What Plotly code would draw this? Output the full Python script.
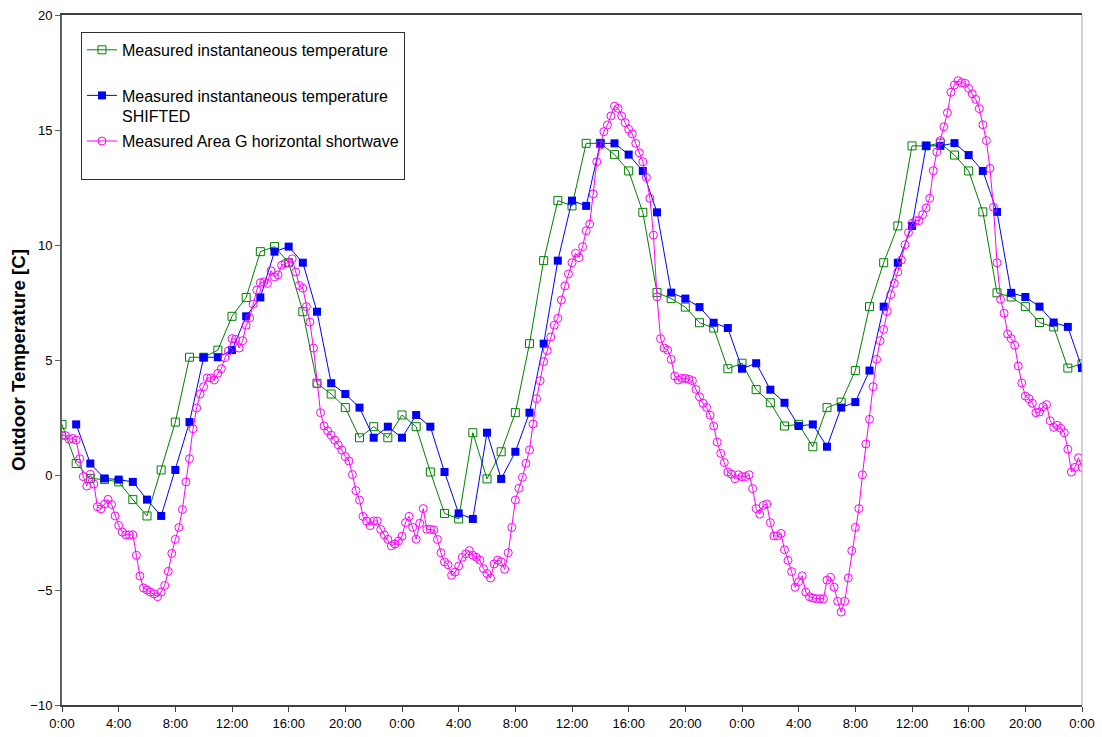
import plotly.graph_objects as go

# ---- data -------------------------------------------------------------
hours_measured = list(range(0, 73))
temp_measured = [
    2.2, 0.5, -0.15, -0.2, -0.3, -1.07, -1.78, 0.22, 2.3, 5.12,
    5.12, 5.43, 6.9, 7.72, 9.71, 9.93, 9.23, 7.1, 3.99, 3.52,
    2.93, 1.62, 2.1, 1.62, 2.61, 2.1, 0.13, -1.67, -1.91, 1.84,
    -0.17, 1.01, 2.71, 5.71, 9.32, 11.93, 11.7, 14.42, 14.42, 13.93,
    13.22, 11.42, 7.93, 7.67, 7.3, 6.62, 6.39, 4.62, 4.86, 3.71,
    3.14, 2.13, 2.2, 1.23, 2.93, 3.17, 4.54, 7.32, 9.23, 10.83,
    14.31, 14.31, 14.43, 13.91, 13.22, 11.44, 7.92, 7.74, 7.32, 6.63,
    6.44, 4.65, 4.83,
]

hours_shifted = list(range(1, 73))
temp_shifted = [
    2.2, 0.5, -0.15, -0.2, -0.3, -1.07, -1.78, 0.22, 2.3, 5.12,
    5.12, 5.43, 6.9, 7.72, 9.71, 9.93, 9.23, 7.1, 3.99, 3.52,
    2.93, 1.62, 2.1, 1.62, 2.61, 2.1, 0.13, -1.67, -1.91, 1.84,
    -0.17, 1.01, 2.71, 5.71, 9.32, 11.93, 11.7, 14.42, 14.42, 13.93,
    13.22, 11.42, 7.93, 7.67, 7.3, 6.62, 6.39, 4.62, 4.86, 3.71,
    3.14, 2.13, 2.2, 1.23, 2.93, 3.17, 4.54, 7.32, 9.23, 10.83,
    14.31, 14.31, 14.43, 13.91, 13.22, 11.44, 7.92, 7.74, 7.32, 6.63,
    6.44, 4.65,
]

# quarter-hourly readings, one row per hour
shortwave = [
    1.72, 1.71, 1.55, 1.59,
    1.52, 0.71, -0.07, -0.48,
    0.03, -0.39, -1.38, -1.47,
    -1.27, -1.06, -1.28, -1.78,
    -2.19, -2.48, -2.6, -2.6,
    -2.6, -3.49, -4.39, -4.91,
    -5.0, -5.09, -5.17, -5.29,
    -5.09, -4.8, -4.19, -3.41,
    -2.8, -2.28, -1.5, -0.3,
    0.71, 2.01, 2.91, 3.52,
    3.84, 4.22, 4.22, 4.13,
    4.42, 4.62, 5.1, 5.4,
    5.93, 5.9, 5.52, 5.84,
    6.51, 6.83, 7.43, 8.04,
    8.36, 8.4, 8.33, 8.88,
    8.62, 8.7, 9.12, 9.2,
    9.23, 9.4, 8.83, 8.24,
    8.12, 7.32, 6.65, 5.52,
    3.96, 2.71, 2.13, 1.92,
    1.73, 1.52, 1.31, 1.09,
    0.8, 0.61, 0.02, -0.68,
    -1.09, -1.8, -2.0, -2.2,
    -2.0, -2.0, -2.37, -2.6,
    -2.8, -3.08, -3.0, -2.87,
    -2.66, -2.07, -1.8, -2.28,
    -2.79, -2.1, -1.46, -2.36,
    -2.36, -2.39, -2.8, -3.38,
    -3.78, -3.9, -4.36, -4.22,
    -3.96, -3.58, -3.43, -3.29,
    -3.49, -3.58, -3.7, -4.07,
    -4.28, -4.48, -3.87, -3.7,
    -3.77, -4.1, -3.38, -2.28,
    -1.09, -0.58, -0.1, 0.51,
    1.09, 2.22, 3.32, 4.1,
    4.93, 5.41, 6.0, 6.51,
    6.81, 7.61, 8.22, 8.74,
    9.23, 9.64, 9.45, 9.93,
    10.62, 10.91, 12.22, 13.62,
    14.35, 14.93, 15.22, 15.61,
    16.04, 15.94, 15.61, 15.32,
    15.03, 14.83, 14.42, 14.01,
    13.62, 12.94, 12.03, 10.43,
    7.75, 5.93, 5.52, 5.43,
    5.03, 4.3, 4.13, 4.2,
    4.2, 4.16, 4.1, 3.72,
    3.4, 3.12, 2.94, 2.6,
    2.13, 1.43, 0.94, 0.54,
    0.13, 0.04, -0.16, 0.01,
    -0.07, -0.07, 0.01, -0.59,
    -1.46, -1.7, -1.32, -1.26,
    -2.07, -2.65, -2.65, -2.54,
    -3.25, -3.71, -4.2, -4.88,
    -4.64, -4.38, -5.09, -5.29,
    -5.35, -5.38, -5.38, -5.38,
    -4.57, -4.45, -4.88, -5.49,
    -5.96, -5.49, -4.48, -3.29,
    -2.28, -1.46, 0.01, 1.35,
    2.42, 3.84, 5.03, 5.84,
    6.33, 7.12, 7.84, 8.33,
    8.83, 9.35, 10.01, 10.54,
    10.94, 11.06, 11.06, 11.32,
    11.61, 12.03, 13.23, 14.04,
    14.54, 15.14, 15.75, 16.64,
    16.96, 17.14, 17.06, 17.03,
    16.81, 16.57, 16.33, 15.93,
    15.23, 14.54, 13.33, 11.64,
    9.23, 7.64, 7.03, 6.13,
    5.93, 5.64, 4.74, 4.0,
    3.43, 3.32, 3.12, 2.71,
    2.74, 2.97, 3.06, 2.36,
    2.07, 2.16, 2.03, 1.84,
    1.12, 0.13, 0.33, 0.75,
    0.33,
]
hours_shortwave = [i / 4 for i in range(len(shortwave))]

tick_hours = list(range(0, 73, 4))
tick_labels = ["0:00", "4:00", "8:00", "12:00", "16:00", "20:00",
               "0:00", "4:00", "8:00", "12:00", "16:00", "20:00",
               "0:00", "4:00", "8:00", "12:00", "16:00", "20:00", "0:00"]

# ---- figure -----------------------------------------------------------
FONT = "Liberation Sans, Arial, sans-serif"
fig = go.Figure()

fig.add_trace(go.Scatter(
    x=hours_measured, y=temp_measured, mode="lines+markers",
    name="Measured instantaneous temperature<br>&nbsp;", legendgroup="a",
    line=dict(color="#008000", width=1),
    marker=dict(symbol="square-open", size=8, color="#008000", line=dict(width=1)),
))
fig.add_trace(go.Scatter(
    x=hours_shifted, y=temp_shifted, mode="lines+markers",
    name="Measured instantaneous temperature<br>SHIFTED", legendgroup="b",
    line=dict(color="#0000ff", width=1),
    marker=dict(symbol="square", size=8, color="#0000ff"),
))
fig.add_trace(go.Scatter(
    x=hours_shortwave, y=shortwave, mode="lines+markers",
    name="Measured Area G horizontal shortwave<br>&nbsp;", legendgroup="c",
    line=dict(color="#ff00ff", width=1),
    marker=dict(symbol="circle-open", size=8, color="#ff00ff", line=dict(width=1)),
))

fig.update_layout(
    width=1102, height=737,
    margin=dict(l=62, r=20, t=15, b=32, autoexpand=False),
    paper_bgcolor="white", plot_bgcolor="white",
    font=dict(family=FONT, size=13, color="black"),
    showlegend=True,
    legend=dict(
        x=0.0186, y=0.9755, xanchor="left", yanchor="top",
        bgcolor="white", bordercolor="#303030", borderwidth=1,
        font=dict(family=FONT, size=16, color="black"),
        itemwidth=30, tracegroupgap=1, traceorder="grouped", valign="top",
    ),
    shapes=[dict(type="line", xref="paper", yref="paper", x0=1, x1=1, y0=0, y1=1,
                 line=dict(color="#a8a8a8", width=1))],
)

fig.update_xaxes(
    range=[0, 72], tickvals=tick_hours, ticktext=tick_labels,
    showgrid=False, zeroline=False, automargin=False,
    showline=True, linecolor="#404040", linewidth=2, mirror=True,
    ticks="outside", ticklen=5, tickcolor="#404040",
    tickfont=dict(family=FONT, size=13),
)
fig.update_yaxes(
    range=[-10, 20], tickvals=[-10, -5, 0, 5, 10, 15, 20],
    showgrid=False, zeroline=False, automargin=False,
    showline=True, linecolor="#606060", linewidth=2,
    ticks="outside", ticklen=5, tickcolor="#606060",
    tickfont=dict(family=FONT, size=13),
    title=dict(text="<b>Outdoor Temperature [C]</b>",
               font=dict(family=FONT, size=18.7), standoff=0),
)

fig.write_html("out.html")
